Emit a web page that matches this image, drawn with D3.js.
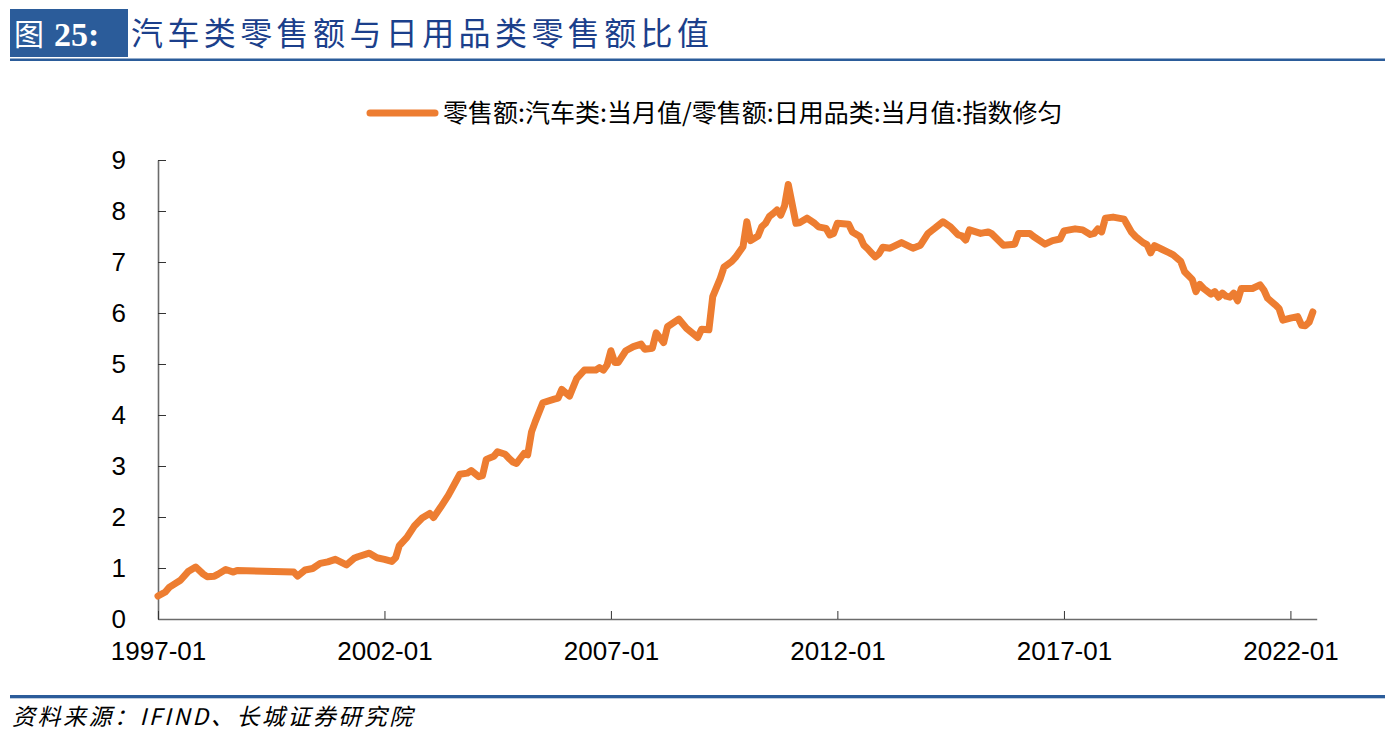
<!DOCTYPE html>
<html><head><meta charset="utf-8">
<script src="https://cdn.jsdelivr.net/npm/d3@7/dist/d3.min.js"></script>
<style>
html,body{margin:0;padding:0;background:#fff;}
svg{display:block;}
</style></head>
<body><svg id="c" width="1395" height="738"></svg>
<script>
const months = ["1997-01","1997-03","1997-04","1997-07","1997-09","1997-11","1998-01","1998-02","1998-04","1998-05","1998-07","1998-09","1998-10",
"2000-01","2000-02","2000-04","2000-06","2000-08","2000-10","2000-12","2001-03","2001-05","2001-06","2001-09","2001-11",
"2002-01","2002-03","2002-04","2002-05","2002-07","2002-09","2002-11","2003-01","2003-02","2003-04","2003-06","2003-08","2003-09","2003-11","2003-12",
"2004-02","2004-03","2004-04","2004-06","2004-07","2004-09","2004-10","2004-11","2004-12","2005-02","2005-03","2005-04","2005-05","2005-07","2005-10","2005-11","2005-12",
"2006-02","2006-04","2006-06","2006-09","2006-10","2006-11","2006-12","2007-01","2007-02","2007-03","2007-05","2007-07","2007-09","2007-10","2007-12",
"2008-01","2008-03","2008-04","2008-07","2008-09","2008-12","2009-01","2009-03","2009-04","2009-06","2009-07","2009-09","2009-10","2009-12",
"2010-01","2010-02","2010-04","2010-05","2010-06","2010-07","2010-08","2010-09","2010-10","2010-11","2010-12","2011-02","2011-03","2011-05","2011-07","2011-08","2011-10","2011-11","2011-12",
"2012-01","2012-04","2012-05","2012-07","2012-08","2012-09","2012-10","2012-11","2012-12","2013-01","2013-03","2013-06","2013-09","2013-11",
"2014-01","2014-03","2014-05","2014-07","2014-09","2014-10","2014-11","2014-12","2015-03","2015-05","2015-06","2015-09","2015-12",
"2016-01","2016-04","2016-05","2016-08","2016-10","2016-12","2017-01","2017-04","2017-06","2017-08","2017-09","2017-10","2017-11","2017-12",
"2018-02","2018-05","2018-07","2018-08","2018-10","2018-11","2018-12","2019-01","2019-03","2019-05","2019-06","2019-08","2019-09","2019-11","2019-12",
"2020-01","2020-02","2020-04","2020-05","2020-06","2020-07","2020-08","2020-09","2020-10","2020-11","2020-12","2021-03","2021-05","2021-06","2021-07","2021-09","2021-10","2021-11",
"2022-01","2022-03","2022-04","2022-05","2022-06","2022-07"];
const ratio = [0.45,0.53,0.62,0.76,0.93,1.02,0.88,0.83,0.84,0.88,0.97,0.92,0.95,
0.92,0.84,0.96,0.99,1.09,1.12,1.17,1.06,1.19,1.22,1.29,1.20,
1.17,1.13,1.20,1.44,1.60,1.83,1.98,2.07,1.99,2.20,2.43,2.70,2.84,2.86,2.91,
2.79,2.81,3.13,3.19,3.28,3.23,3.15,3.08,3.05,3.25,3.22,3.67,3.87,4.24,4.31,4.33,4.50,
4.37,4.72,4.88,4.88,4.93,4.88,4.98,5.26,5.03,5.03,5.26,5.34,5.39,5.29,5.31,
5.61,5.42,5.73,5.88,5.70,5.52,5.68,5.67,6.32,6.68,6.90,7.01,7.09,7.30,
7.79,7.42,7.51,7.69,7.76,7.89,7.95,8.02,7.92,8.10,8.52,7.76,7.77,7.86,7.76,7.69,7.66,7.53,7.56,
7.76,7.74,7.59,7.50,7.33,7.26,7.18,7.10,7.16,7.29,7.27,7.38,7.27,7.33,
7.56,7.67,7.79,7.69,7.53,7.51,7.43,7.63,7.56,7.59,7.55,7.33,7.35,
7.56,7.56,7.50,7.35,7.42,7.45,7.61,7.65,7.63,7.54,7.56,7.65,7.59,7.86,
7.88,7.84,7.58,7.50,7.38,7.34,7.18,7.32,7.25,7.18,7.14,7.01,6.81,6.66,6.42,
6.56,6.48,6.37,6.42,6.31,6.39,6.33,6.31,6.39,6.24,6.48,6.48,6.55,6.45,6.29,6.16,6.09,5.86,
5.90,5.93,5.76,5.75,5.82,6.02];
const xTickLabels = ["1997-01","2002-01","2007-01","2012-01","2017-01","2022-01"];
const yTicks = [0,1,2,3,4,5,6,7,8,9];
const seriesName = "零售额:汽车类:当月值/零售额:日用品类:当月值:指数修匀";
const titleText = "汽车类零售额与日用品类零售额比值";
const sourceText = "资料来源：IFIND、长城证券研究院";

const parse = d3.timeParse("%Y-%m");
const data = months.map((m,i)=>({date:parse(m), v:ratio[i]}));

const svg = d3.select("#c");
const x = d3.scaleTime().domain([parse("1997-01"), parse("2022-08")]).range([158, 1316.7]);
const y = d3.scaleLinear().domain([0,9]).range([619,160]);

// Header
svg.append("rect").attr("x",10).attr("y",9).attr("width",118).attr("height",48).attr("fill","#2B5C9A");
svg.append("text").attr("x",14).attr("y",45).attr("fill","#fff")
  .style("font-family","'Noto Sans CJK SC'").style("font-size","30px").text("图");
svg.append("text").attr("x",54).attr("y",46).attr("fill","#fff")
  .style("font-family","'Liberation Serif'").style("font-weight","bold").style("font-size","34px").text("25:");
svg.append("text").attr("x",131).attr("y",45).attr("fill","#1B3F8B")
  .style("font-family","'Noto Sans CJK SC'").style("font-size","32px").style("letter-spacing","4.4px").text(titleText);
svg.append("rect").attr("x",10).attr("y",58.5).attr("width",1375).attr("height",2.5).attr("fill","#2B5C9A");

// Footer
svg.append("rect").attr("x",10).attr("y",695).attr("width",1375).attr("height",3.3).attr("fill","#2B5C9A");
svg.append("text").attr("x",12).attr("y",725).attr("fill","#000")
  .style("font-family","'Noto Sans CJK SC'").style("font-style","italic").style("font-size","23px").style("letter-spacing","2.5px").text(sourceText);

// Legend
svg.append("line").attr("x1",370).attr("x2",435).attr("y1",113).attr("y2",113)
  .attr("stroke","#ED7D31").attr("stroke-width",7).attr("stroke-linecap","round");
svg.append("text").attr("x",443).attr("y",113).attr("dy","0.35em").attr("fill","#000")
  .style("font-family","'Noto Sans CJK SC'").style("font-size","25px").text(seriesName);

// Axes
const axisFont = "'Liberation Sans', Arial, sans-serif";
const gy = svg.append("g").attr("transform","translate(158,0)")
  .call(d3.axisLeft(y).tickValues(yTicks).tickSize(-8).tickSizeOuter(0).tickPadding(32).tickFormat(d3.format("d")));
const gx = svg.append("g").attr("transform","translate(0,619)")
  .call(d3.axisBottom(x).tickValues(xTickLabels.map(parse)).tickSize(-8).tickSizeOuter(0).tickPadding(23).tickFormat(d3.timeFormat("%Y-%m")));
[gy,gx].forEach(g=>{
  g.select(".domain").attr("stroke","#6b6b6b").attr("stroke-width",1.6);
  g.selectAll(".tick line").attr("stroke","#333").attr("stroke-width",1);
  g.selectAll(".tick text").attr("fill","#000").style("font-family",axisFont).style("font-size","26px");
});

// Line
svg.append("path").datum(data)
  .attr("fill","none").attr("stroke","#ED7D31").attr("stroke-width",7)
  .attr("stroke-linejoin","round").attr("stroke-linecap","round")
  .attr("d", d3.line().x(d=>x(d.date)).y(d=>y(d.v)));
</script></body></html>
